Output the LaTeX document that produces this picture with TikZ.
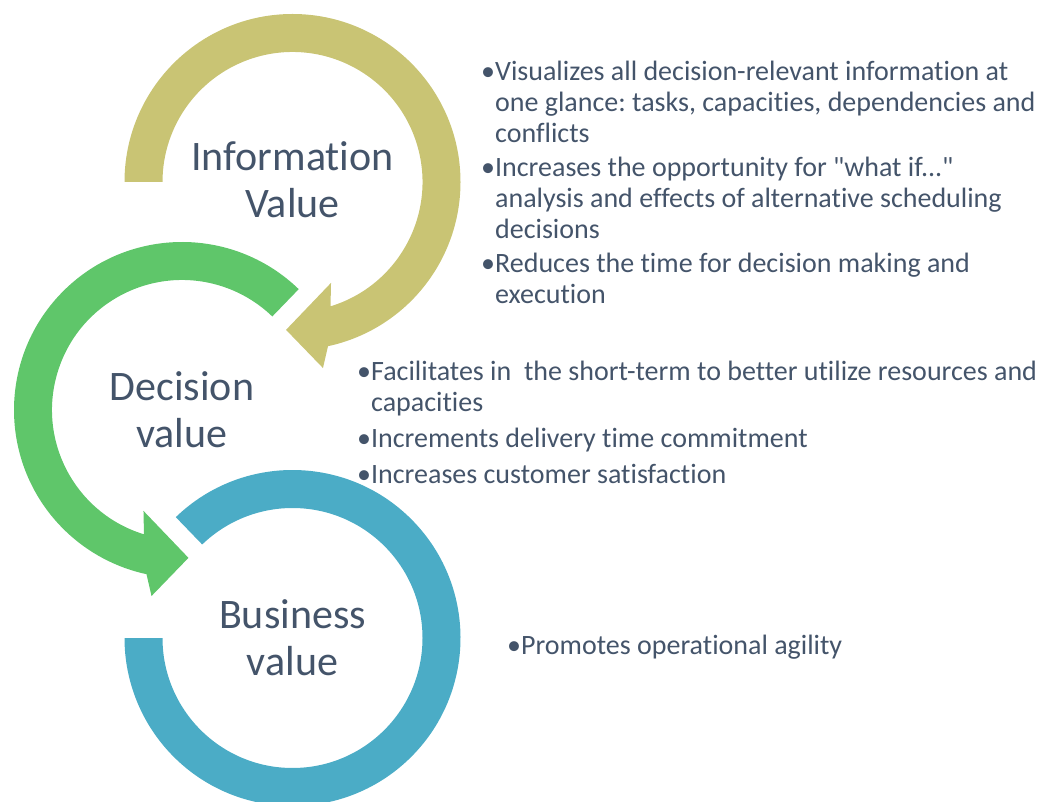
\documentclass[tikz,border=0pt]{standalone}
\usepackage{fontspec}
\setmainfont{Carlito}[Ligatures={TeXOff,NoCommon}]
\frenchspacing

\definecolor{infocol}{RGB}{201,196,116}
\definecolor{deccol}{RGB}{95,198,106}
\definecolor{buscol}{RGB}{75,172,198}
\definecolor{textcol}{RGB}{68,84,106}

\begin{document}
\begin{tikzpicture}[x=1pt,y=1pt]
    \newcommand{\outr}{168} % outer radius of the rings
    \newcommand{\innr}{130} % inner radius of the rings
    \newcommand{\tipr}{148} % radius at the arrow tips
    \newcommand{\headin}{108} % inner corner of the arrow heads
    \newcommand{\headout}{188.5} % outer corner of the arrow heads

    % set the style of the labels
    \tikzset{
        title/.style={
            text=textcol,
            font=\fontsize{42}{47}\selectfont,
            align=center
            },
        bullets/.style={
            text=textcol,
            font=\fontsize{28}{31}\selectfont,
            inner sep=0pt,
            anchor=base west
            }
    }

    \useasboundingbox (0,0) rectangle (1052,801);
    \clip (0,0) rectangle (1052,801);

    % information ring
    \begin{scope}[shift={(292.5,619)}]
        \fill[infocol] (180:\outr) arc[start angle=180, end angle=-77.8, radius=\outr]
            -- (-80.7:\headout) -- (-92.5:\tipr) -- (-69.1:\headin) -- (-73:\innr)
            arc[start angle=-73, end angle=180, radius=\innr] -- cycle;
        \node[title] (infotitle) at (0,2) {Information\\Value};
    \end{scope}

    % decision ring
    \begin{scope}[shift={(182,391)}]
        \fill[deccol] (46:\outr) arc[start angle=46, end angle=257.8, radius=\outr]
            -- (260.7:\headout) -- (272.5:\tipr) -- (249.1:\headin) -- (253:\innr)
            arc[start angle=253, end angle=46, radius=\innr] -- cycle;
        \node[title] (dectitle) at (0,0) {Decision\\value};
    \end{scope}

    % business ring
    \begin{scope}[shift={(292.5,163)}]
        \fill[buscol] (134:\outr) arc[start angle=134, end angle=-180, radius=\outr]
            -- (180:\innr) arc[start angle=-180, end angle=134, radius=\innr] -- cycle;
        \node[title] (bustitle) at (0,0) {Business\\value};
    \end{scope}

    % bullet lists
    \node[bullets] (infotext) at (481,720) {\begin{tabular}[t]{@{}l@{}l@{}}
        •&Visualizes all decision-relevant information at\\
         &one glance: tasks, capacities, dependencies and\\
         &conflicts\\[3pt]
        •&Increases the opportunity for "what if..."\\
         &analysis and effects of alternative scheduling\\
         &decisions\\[3pt]
        •&Reduces the time for decision making and\\
         &execution
    \end{tabular}};
    \node[bullets] (dectext) at (357,420) {\begin{tabular}[t]{@{}l@{}l@{}}
        •&Facilitates in\ \ the short-term to better utilize resources and\\
         &capacities\\[5pt]
        •&Increments delivery time commitment\\[5pt]
        •&Increases customer satisfaction
    \end{tabular}};
    \node[bullets] (bustext) at (507,147) {\begin{tabular}[t]{@{}l@{}l@{}}
        •&Promotes operational agility
    \end{tabular}};
\end{tikzpicture}
\end{document}
